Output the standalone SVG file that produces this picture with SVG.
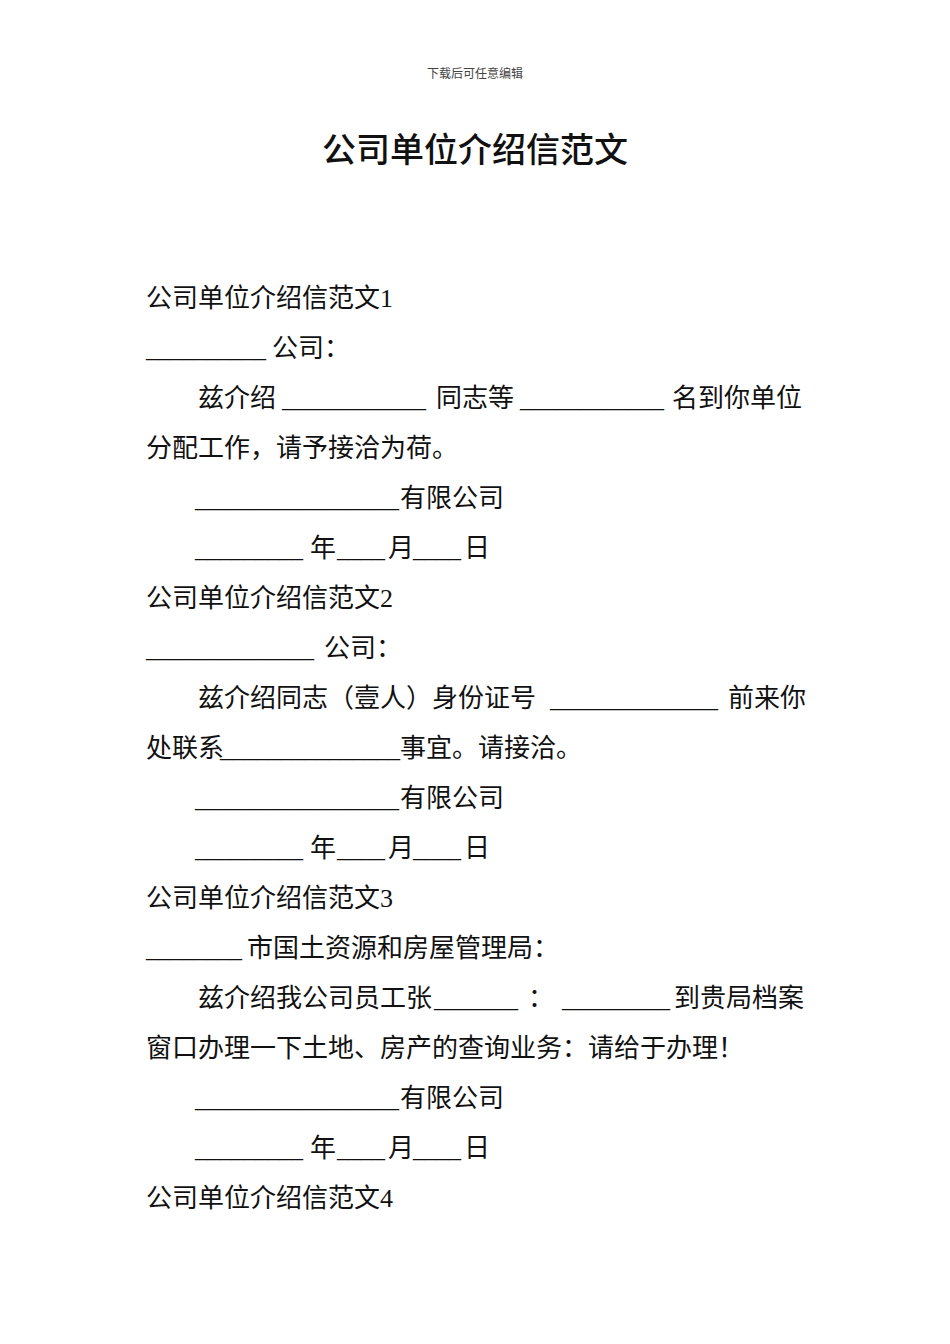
<svg xmlns="http://www.w3.org/2000/svg" width="950" height="1344" viewBox="0 0 950 1344">
<style>
text{font-family:"Liberation Serif","Noto Sans CJK SC",serif;font-size:26px;fill:#111}
.u{font-size:24px}
.h{font-size:12px;fill:#444;text-anchor:middle}
.t{font-size:34px;font-weight:500;text-anchor:middle}
</style>
<rect width="950" height="1344" fill="#fff"/>
<text class="h" x="475" y="78">下载后可任意编辑</text>
<text class="t" x="475" y="162">公司单位介绍信范文</text>
<g id="s1">
<text x="146" y="307">公司单位介绍信范文1</text>
<text class="u" x="146" y="357">__________</text><text x="272" y="357">公司：</text>
<text x="198" y="407">兹介绍</text><text class="u" x="282" y="407">____________</text><text x="436" y="407">同志等</text><text class="u" x="520" y="407">____________</text><text x="672" y="407">名到你单位</text>
<text x="146" y="457">分配工作，请予接洽为荷。</text>
<text class="u" x="195" y="507">_________________</text><text x="400" y="507">有限公司</text>
<text class="u" x="195" y="557">_________</text><text x="310" y="557">年</text><text class="u" x="337" y="557">____</text><text x="388" y="557">月</text><text class="u" x="413" y="557">____</text><text x="464" y="557">日</text>
</g>
<g id="s2">
<text x="146" y="607">公司单位介绍信范文2</text>
<text class="u" x="146" y="657">______________</text><text x="324" y="657">公司：</text>
<text x="198" y="707">兹介绍同志（壹人）身份证号</text><text class="u" x="550" y="707">______________</text><text x="728" y="707">前来你</text>
<text x="146" y="757">处联系</text><text class="u" x="220" y="757">_______________</text><text x="400" y="757">事宜。请接洽。</text>
<text class="u" x="195" y="807">_________________</text><text x="400" y="807">有限公司</text>
<text class="u" x="195" y="857">_________</text><text x="310" y="857">年</text><text class="u" x="337" y="857">____</text><text x="388" y="857">月</text><text class="u" x="413" y="857">____</text><text x="464" y="857">日</text>
</g>
<g id="s3">
<text x="146" y="907">公司单位介绍信范文3</text>
<text class="u" x="146" y="957">________</text><text x="247" y="957">市国土资源和房屋管理局：</text>
<text x="198" y="1007">兹介绍我公司员工张</text><text class="u" x="434" y="1007">_______</text><text x="528" y="1007">：</text><text class="u" x="562" y="1007">_________</text><text x="674" y="1007">到贵局档案</text>
<text x="146" y="1057">窗口办理一下土地、房产的查询业务：请给于办理！</text>
<text class="u" x="195" y="1107">_________________</text><text x="400" y="1107">有限公司</text>
<text class="u" x="195" y="1157">_________</text><text x="310" y="1157">年</text><text class="u" x="337" y="1157">____</text><text x="388" y="1157">月</text><text class="u" x="413" y="1157">____</text><text x="464" y="1157">日</text>
</g>
<g id="s4">
<text x="146" y="1207">公司单位介绍信范文4</text>
</g>
</svg>
